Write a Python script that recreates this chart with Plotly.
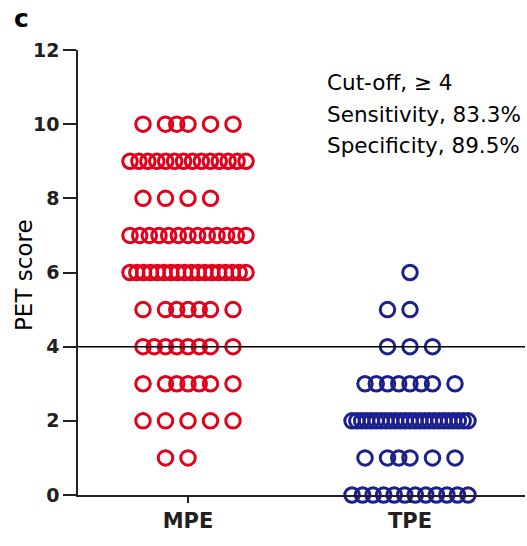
import numpy as np
import plotly.graph_objects as go

# ---- data ----
groups = ["MPE", "TPE"]
mpe_levels = [10, 9, 8, 7, 6, 5, 4, 3, 2, 1]
mpe_counts = [6, 14, 4, 13, 18, 7, 8, 7, 5, 2]
tpe_levels = [6, 5, 4, 3, 2, 1, 0]
tpe_counts = [1, 2, 3, 8, 25, 6, 12]
cutoff = 4
y_ticks = [0, 2, 4, 6, 8, 10, 12]
y_title = "PET score"
stat_lines = ["Cut-off, \u2265 4", "Sensitivity, 83.3%", "Specificity, 89.5%"]

# ---- layout constants ----
W, H = 527, 546
L, R, T, B = 78, 2, 50, 51
PX_PER_UNIT = 222.0
X_RANGE = [-110 / PX_PER_UNIT, (W - R - L - 110) / PX_PER_UNIT]
RED = "#e2001a"
BLUE = "#1c208a"
INK = "#231f20"
FONT = "DejaVu Sans"
PW = W - L - R
PH = H - T - B

STEP = 22.5  # pixel spacing between neighbouring full slots
MAIN_SLOTS = [0, -STEP, STEP, -2 * STEP, 2 * STEP]
HALF_SLOTS = [-STEP / 2, STEP / 2, -1.5 * STEP, 1.5 * STEP]
MAX_W = 116.0


def spread(n):
    """horizontal pixel offsets (scatter-dot-plot style) for n equal values"""
    if n <= 5:
        return np.sort(np.array(MAIN_SLOTS[:n]))
    if n <= 9:
        return np.sort(np.array(MAIN_SLOTS + HALF_SLOTS[: n - 5]))
    width = min(STEP / 2 * (n - 1), MAX_W)
    return np.linspace(-width / 2, width / 2, n)


def column(center, levels, counts):
    xs, ys = [], []
    for lv, c in zip(levels, counts):
        offs = spread(c) / PX_PER_UNIT
        xs.extend(center + offs)
        ys.extend([lv] * c)
    return xs, ys


fig = go.Figure()
for i, (levels, counts, col) in enumerate(
    [(mpe_levels, mpe_counts, RED), (tpe_levels, tpe_counts, BLUE)]
):
    xs, ys = column(i, levels, counts)
    fig.add_trace(
        go.Scatter(
            x=xs,
            y=ys,
            mode="markers",
            cliponaxis=False,
            marker=dict(
                symbol="circle-open",
                size=14.5,
                color=col,
                line=dict(width=3, color=col),
            ),
            showlegend=False,
            hoverinfo="skip",
        )
    )

fig.add_shape(
    type="line",
    xref="paper",
    yref="y",
    x0=0,
    x1=1,
    y0=cutoff,
    y1=cutoff,
    line=dict(color="#000000", width=1.5),
)

for k, txt in enumerate(stat_lines):
    ypix = 82 + 32 * k
    fig.add_annotation(
        text=txt,
        xref="paper",
        yref="paper",
        x=(325 - L) / PW,
        y=(H - B - ypix) / PH,
        xanchor="left",
        yanchor="middle",
        showarrow=False,
        font=dict(family=FONT, size=21.5, color="#000000"),
    )

fig.add_annotation(
    text="<b>c</b>",
    xref="paper",
    yref="paper",
    x=(12 - L) / PW,
    y=(H - B - 19) / PH,
    xanchor="left",
    yanchor="middle",
    showarrow=False,
    font=dict(family=FONT, size=25, color="#000000"),
)

fig.add_annotation(
    text=y_title,
    textangle=-90,
    xref="paper",
    yref="paper",
    x=(24 - L) / PW,
    y=(H - B - 275) / PH,
    xanchor="center",
    yanchor="middle",
    showarrow=False,
    font=dict(family=FONT, size=23, color="#000000"),
)

fig.update_layout(
    width=W,
    height=H,
    margin=dict(l=L, r=R, t=T, b=B),
    plot_bgcolor="white",
    paper_bgcolor="white",
    xaxis=dict(
        range=X_RANGE,
        tickvals=[0, 1],
        ticktext=groups,
        showline=True,
        linecolor=INK,
        linewidth=1.5,
        ticks="outside",
        ticklen=6,
        tickwidth=1.5,
        tickcolor=INK,
        showgrid=False,
        zeroline=False,
        tickfont=dict(family=FONT, size=21, color=INK, weight="bold"),
    ),
    yaxis=dict(
        range=[0, 12],
        tickvals=y_ticks,
        showline=True,
        linecolor=INK,
        linewidth=1.5,
        ticks="outside",
        ticklen=13,
        tickwidth=1.5,
        tickcolor=INK,
        showgrid=False,
        zeroline=False,
        tickfont=dict(family=FONT, size=19, color=INK, weight="bold"),
    ),
)

fig.write_html(
    "out.html",
    config={"displayModeBar": False},
    post_script="document.body.style.margin='0';",
)
